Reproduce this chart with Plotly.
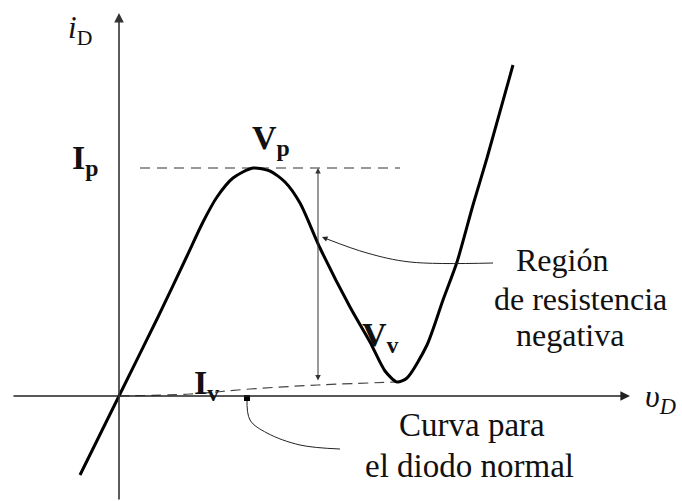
import plotly.graph_objects as go

# Tunnel diode i-v characteristic (normalized units)
v_curve = [-0.39, 0.0, 0.39, 0.68, 0.84, 0.98, 1.14, 1.34, 1.51, 1.66, 1.81, 2.01,
           2.31, 2.51, 2.66, 2.78, 2.88, 3.08, 3.24, 3.38, 3.54, 3.68, 3.94]
i_curve = [-0.79, 0.0, 0.79, 1.40, 1.74, 1.99, 2.18, 2.28, 2.25, 2.14, 1.93, 1.48,
           0.89, 0.54, 0.25, 0.14, 0.18, 0.51, 0.96, 1.34, 1.91, 2.38, 3.31]

# Peak and valley points
v_peak, i_peak = 1.34, 2.28
v_valley, i_valley = 2.78, 0.14

# Ordinary diode curve near the axis
v_normal = [0.0, 0.71, 1.31, 1.99, 2.78]
i_normal = [0.0, 0.02, 0.07, 0.11, 0.14]

# Extent of the Ip reference line
v_ip_line = [0.21, 2.81]

# Pointer for the negative-resistance label
v_ptr_neg = [3.74, 2.91, 2.48, 2.08]
i_ptr_neg = [1.33, 1.34, 1.43, 1.57]

# Pointer for the ordinary diode label
v_ptr_norm = [1.28, 1.31, 1.48, 1.81, 2.21]
i_ptr_norm = [-0.02, -0.24, -0.37, -0.49, -0.53]

# Measurement arrow position between Iv and Ip
v_delta = 1.99

FONT = "Liberation Serif"
INK = "#111111"

fig = go.Figure()

# Ip dashed reference
fig.add_trace(go.Scatter(x=v_ip_line, y=[i_peak, i_peak], mode="lines",
                         line=dict(color="#333333", width=1.2, dash="10px,7px"),
                         hoverinfo="skip"))
# Ordinary diode curve (dashed)
fig.add_trace(go.Scatter(x=v_normal, y=i_normal, mode="lines",
                         line=dict(color="#444444", width=1.2, dash="10px,6px", shape="spline"),
                         hoverinfo="skip"))
# Main characteristic
fig.add_trace(go.Scatter(x=v_curve, y=i_curve, mode="lines",
                         line=dict(color="black", width=3, shape="spline", smoothing=0.7),
                         hoverinfo="skip"))
# Label pointers
fig.add_trace(go.Scatter(x=v_ptr_neg, y=i_ptr_neg, mode="lines",
                         line=dict(color="#222222", width=1, shape="spline"),
                         hoverinfo="skip"))
fig.add_trace(go.Scatter(x=v_ptr_norm, y=i_ptr_norm, mode="lines",
                         line=dict(color="#222222", width=1, shape="spline"),
                         hoverinfo="skip"))
fig.add_trace(go.Scatter(x=v_ptr_norm[:1], y=i_ptr_norm[:1], mode="markers",
                         marker=dict(symbol="square", size=6, color="black"),
                         hoverinfo="skip"))
# Horizontal axis title, allowed to run off the right edge
fig.add_trace(go.Scatter(x=[5.26], y=[-0.03], mode="text",
                         text=["<i>υ<sub>D</sub></i>"], textposition="middle right",
                         textfont=dict(family=FONT, size=32, color=INK),
                         cliponaxis=True, hoverinfo="skip"))

xr = [-1.19, 5.63]
yr = [-1.05, 3.96]

ann = []
# Axes with arrowheads
ann.append(dict(x=5.11, y=0, ax=xr[0] + 0.12, ay=0, axref="x", ayref="y",
                xref="x", yref="y", text="", showarrow=True, arrowhead=2,
                arrowsize=1.2, arrowwidth=1.6, arrowcolor="#222222"))
ann.append(dict(x=0, y=3.83, ax=0, ay=yr[0], axref="x", ayref="y",
                xref="x", yref="y", text="", showarrow=True, arrowhead=2,
                arrowsize=1.2, arrowwidth=1.6, arrowcolor="#333333"))
# Double-headed arrow from Iv to Ip
ann.append(dict(x=v_delta, y=i_peak, ax=v_delta, ay=i_valley, axref="x", ayref="y",
                xref="x", yref="y", text="", showarrow=True, arrowhead=2,
                startarrowhead=2, arrowside="end+start", arrowsize=1.1,
                startarrowsize=1.1, arrowwidth=1, arrowcolor="#333333"))
# Arrowhead at end of the negative-resistance pointer
ann.append(dict(x=2.03, y=1.59, ax=v_ptr_neg[-1], ay=i_ptr_neg[-1], axref="x", ayref="y",
                xref="x", yref="y", text="", showarrow=True, arrowhead=2,
                arrowsize=1.1, arrowwidth=1, arrowcolor="#222222"))


def label(text, x, y, size, xanchor="center", yanchor="middle"):
    ann.append(dict(x=x, y=y, xref="x", yref="y", text=text, showarrow=False,
                    xanchor=xanchor, yanchor=yanchor,
                    font=dict(family=FONT, size=size, color=INK)))


label("<i>i</i><sub>D</sub>", -0.53, 3.66, 31, xanchor="left")
label("<b>I<sub>p</sub></b>", -0.49, 2.36, 34, xanchor="left")
label("<b>V<sub>p</sub></b>", 1.31, 2.56, 34, xanchor="left")
label("<b>V<sub>v</sub></b>", 2.41, 0.59, 34, xanchor="left")
label("<b>I<sub>v</sub></b>", 0.73, 0.11, 34, xanchor="left")
label("Región", 4.43, 1.36, 32)
label("de resistencia", 4.61, 0.97, 32)
label("negativa", 4.51, 0.61, 32)
label("Curva para", 3.53, -0.29, 33)
label("el diodo normal", 3.50, -0.70, 33)

fig.update_layout(
    width=682, height=501,
    margin=dict(l=0, r=0, t=0, b=0),
    paper_bgcolor="white", plot_bgcolor="white",
    showlegend=False,
    xaxis=dict(range=xr, visible=False, fixedrange=True),
    yaxis=dict(range=yr, visible=False, fixedrange=True),
    annotations=ann,
)

fig.write_html("out.html")
